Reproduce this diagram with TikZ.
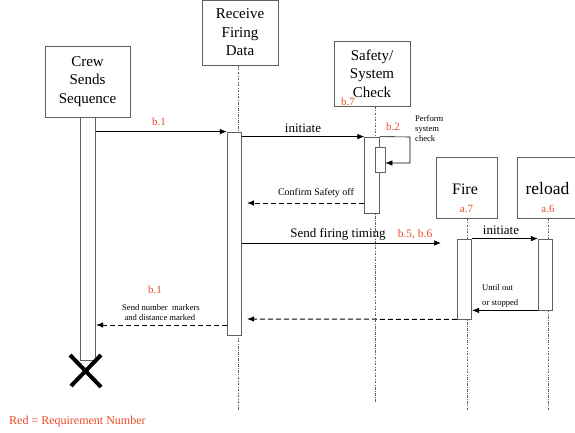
\documentclass[tikz,border=0pt]{standalone}
\usepackage{fontspec}
\setmainfont{Liberation Serif}
\usetikzlibrary{arrows.meta}
\definecolor{reqred}{RGB}{232,74,40}
\definecolor{boxgray}{RGB}{95,95,95}
\begin{document}
\begin{tikzpicture}[x=1pt,y=-1pt,
    obj/.style = {draw=boxgray, line width=0.9pt, inner sep=0pt, align=center,
                  font=\fontsize{15}{18.5}\selectfont},
    bar/.style = {draw=boxgray, fill=white, line width=0.8pt, inner sep=0pt, minimum width=14.5pt},
    life/.style = {boxgray, line width=0.5pt, dash pattern=on 2.5pt off 1.5pt on 0.6pt off 1.5pt},
    msg/.style = {-{Latex[length=7pt,width=5.5pt]}, line width=0.7pt},
    reply/.style = {msg, dash pattern=on 5pt off 3pt, line width=1pt},
    req/.style = {text=reqred, inner sep=0pt, font=\fontsize{11}{12}\selectfont},
    note/.style = {inner sep=0pt, font=\fontsize{8.6}{10}\selectfont}]
  \useasboundingbox (0,0) rectangle (575,433);
  \clip (0,0) rectangle (575,433);
  % objects
  \node[obj, minimum width=85pt, minimum height=71pt] (crew) at (87.5,81.5) {Crew\\Sends\\Sequence};
  \node[obj, minimum width=76pt, minimum height=65pt] (recv) at (240,32.5) {Receive\\Firing\\Data};
  \node[obj, minimum width=76pt, minimum height=65pt] (safety) at (372,73.5) {Safety/\\System\\Check};
  \node[obj, minimum width=61pt, minimum height=61pt] (fire) at (466.5,187.5) {};
  \node[obj, minimum width=62pt, minimum height=61pt] (reload) at (548.5,187.5) {};
  \node[inner sep=0pt, font=\fontsize{16}{18}\selectfont] (firetxt) at (465,189) {Fire};
  \node[inner sep=0pt, font=\fontsize{17.5}{18}\selectfont] (reloadtxt) at (547.5,189) {reload};
  \node[req] (a7) at (466.5,209) {a.7};
  \node[req] (a6) at (548,209) {a.6};
  \node[req] (b7) at (348,102) {b.7};
  % lifelines
  \coordinate (recvend) at (238,410);
  \coordinate (safetyend) at (375,402);
  \coordinate (fireend) at (467,411);
  \coordinate (reloadend) at (548,411);
  \draw[life] (recvend |- recv.south) -- (recvend);
  \draw[life] (safetyend |- safety.south) -- (safetyend);
  \draw[life] (fireend |- fire.south) -- (fireend);
  \draw[life] (reloadend |- reload.south) -- (reloadend);
  % activation bars
  \node[bar, minimum height=243pt] (crewbar) at (88,238.5) {};
  \node[bar, minimum height=203pt] (recvbar) at (234.5,233.5) {};
  \node[bar, minimum height=76pt] (safetybar) at (372,175) {};
  \node[bar, minimum width=10pt, minimum height=25pt] (checkbar) at (380,159.5) {};
  \node[bar, minimum height=80pt] (firebar) at (464.5,279) {};
  \node[bar, minimum height=71pt] (reloadbar) at (545.5,274.5) {};
  % end of crew
  \draw[line width=4pt] (70,355) -- (101,387) (101,355) -- (71,386);
  % messages
  \draw[msg] (crewbar.east |- recvbar.north) -- (recvbar.north west);
  \node[req] (b1a) at (159,122) {b.1};
  \draw[msg] (recvbar.east |- safetybar.north) -- (safetybar.north west);
  \node[inner sep=0pt, font=\fontsize{13}{14}\selectfont] (init1) at (303,128) {initiate};
  \coordinate (loopa) at (410,137);
  \coordinate (loopb) at (410,163);
  \draw[msg, line width=0.6pt] (safetybar.north east) -- (loopa) -- (loopb) -- (checkbar.east |- loopb);
  \node[req] (b2) at (393,127) {b.2};
  \node[note, anchor=north west, align=left] (check) at (415,115) {Perform\\system\\check};
  \coordinate (confirmtip) at (247,203);
  \draw[reply] (safetybar.west |- confirmtip) -- (confirmtip);
  \node[inner sep=0pt, font=\fontsize{10}{12}\selectfont] (confirm) at (316,193) {Confirm Safety off};
  \coordinate (timingtip) at (441,243);
  \draw[msg] (recvbar.east |- timingtip) -- (timingtip);
  \node[inner sep=0pt, font=\fontsize{13}{14}\selectfont] (timing) at (338,234) {Send firing timing};
  \node[req, font=\fontsize{11.5}{12}\selectfont] (b56) at (415,234) {b.5, b.6};
  \draw[msg] (firebar.north east) -- (reloadbar.north west);
  \node[inner sep=0pt, font=\fontsize{13}{14}\selectfont] (init2) at (501,230) {initiate};
  \draw[msg, line width=0.6pt] (reloadbar.south west) -- (firebar.east |- reloadbar.south);
  \node[note, anchor=west, align=left, font=\fontsize{8.6}{15}\selectfont] (until) at (482,296) {Until out\\or stopped};
  \coordinate (backtip) at (247,319);
  \draw[reply] (firebar.south west) -- (backtip);
  \coordinate (markertip) at (96,325);
  \draw[reply] (recvbar.west |- markertip) -- (markertip);
  \node[note, align=left] (markers) at (161,313) {Send number\enspace markers\\\;and distance marked};
  \node[req] (b1b) at (155,290) {b.1};
  % legend
  \node[anchor=west, inner sep=0pt, text=reqred, font=\fontsize{12}{13}\selectfont] (legend) at (9,422) {Red = Requirement Number};
\end{tikzpicture}
\end{document}
